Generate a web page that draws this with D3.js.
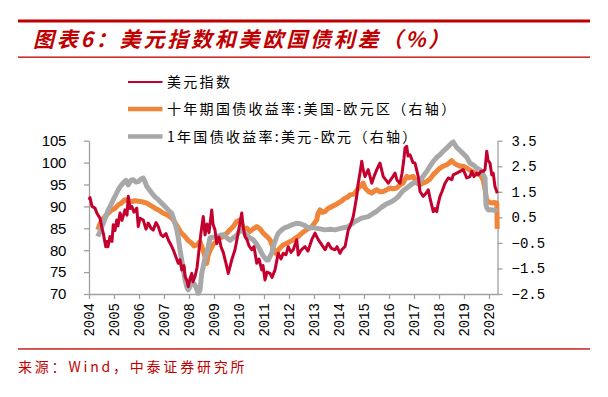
<!DOCTYPE html>
<html>
<head>
<meta charset="utf-8">
<script src="https://cdn.jsdelivr.net/npm/d3@7"></script>
<style>
  body { margin: 0; background: #fff; }
  svg { display: block; }
</style>
</head>
<body>
<script>
// years on the bottom axis, ticks on both value axes
var years = d3.range(2004, 2021);
var leftTicks = [70, 75, 80, 85, 90, 95, 100, 105];
var rightTicks = [-2.5, -1.5, -0.5, 0.5, 1.5, 2.5, 3.5];

var seriesNames = ['美元指数', '十年期国债收益率:美国-欧元区（右轴）', '1年国债收益率:美元-欧元（右轴）'];

// [decimal year, value]
var usdIndex = [
  [2004.00, 91.5], [2004.04, 92.0], [2004.12, 90.0], [2004.24, 89.6], [2004.32, 88.4],
  [2004.44, 87.3], [2004.52, 85.0], [2004.57, 83.9], [2004.67, 80.8], [2004.72, 82.0],
  [2004.76, 80.8], [2004.84, 83.1], [2004.92, 82.0], [2004.97, 85.8], [2005.04, 84.5],
  [2005.11, 86.9], [2005.16, 85.6], [2005.24, 88.5], [2005.32, 86.8], [2005.44, 89.2],
  [2005.52, 88.0], [2005.57, 92.3], [2005.64, 89.5], [2005.71, 90.0], [2005.80, 88.7],
  [2005.91, 89.6], [2005.97, 85.4], [2006.04, 87.3], [2006.17, 86.9], [2006.28, 84.8],
  [2006.37, 86.2], [2006.48, 85.0], [2006.57, 84.6], [2006.68, 86.3], [2006.77, 85.4],
  [2006.88, 83.5], [2006.97, 83.1], [2007.08, 83.8], [2007.17, 82.4], [2007.28, 81.2],
  [2007.37, 80.1], [2007.48, 78.4], [2007.57, 77.0], [2007.64, 77.8], [2007.71, 75.5],
  [2007.80, 76.5], [2007.84, 74.0], [2007.92, 73.0], [2007.97, 71.7], [2008.04, 73.5],
  [2008.11, 74.7], [2008.16, 72.8], [2008.24, 74.0], [2008.32, 76.0], [2008.40, 80.0],
  [2008.48, 84.0], [2008.57, 87.7], [2008.64, 83.5], [2008.72, 86.0], [2008.80, 84.0],
  [2008.91, 89.2], [2008.96, 86.0], [2009.04, 84.6], [2009.11, 81.5], [2009.20, 83.0],
  [2009.28, 80.8], [2009.37, 79.5], [2009.48, 77.0], [2009.57, 74.7], [2009.64, 76.2],
  [2009.72, 78.0], [2009.84, 80.1], [2009.92, 82.5], [2010.00, 85.0], [2010.11, 88.5],
  [2010.16, 85.5], [2010.24, 83.1], [2010.32, 82.4], [2010.40, 81.0], [2010.51, 80.1],
  [2010.60, 80.8], [2010.71, 77.0], [2010.80, 78.0], [2010.91, 75.5], [2010.96, 76.5],
  [2011.04, 73.2], [2011.12, 75.0], [2011.24, 74.7], [2011.32, 73.8], [2011.44, 75.5],
  [2011.57, 79.3], [2011.68, 78.0], [2011.77, 79.3], [2011.88, 79.0], [2011.97, 80.8],
  [2012.08, 79.5], [2012.17, 80.1], [2012.31, 82.4], [2012.37, 78.9], [2012.48, 80.0],
  [2012.64, 80.8], [2012.76, 79.8], [2012.91, 82.4], [2013.04, 83.9], [2013.17, 82.4],
  [2013.28, 81.5], [2013.44, 80.1], [2013.57, 81.6], [2013.68, 80.5], [2013.84, 80.1],
  [2013.92, 80.8], [2014.04, 79.3], [2014.12, 80.2], [2014.24, 80.8], [2014.37, 84.6],
  [2014.48, 86.0], [2014.57, 87.7], [2014.64, 90.0], [2014.71, 92.3], [2014.76, 95.0],
  [2014.84, 97.6], [2014.91, 100.3], [2014.96, 98.5], [2015.04, 96.8], [2015.17, 98.4],
  [2015.31, 95.3], [2015.40, 96.8], [2015.51, 98.4], [2015.64, 99.9], [2015.77, 96.8],
  [2015.88, 96.0], [2015.97, 95.3], [2016.12, 96.5], [2016.24, 97.6], [2016.32, 96.0],
  [2016.44, 95.3], [2016.52, 97.5], [2016.60, 101.0], [2016.64, 103.3], [2016.71, 103.7],
  [2016.76, 101.5], [2016.84, 101.8], [2016.96, 100.0], [2017.04, 99.9], [2017.17, 96.8],
  [2017.24, 93.4], [2017.37, 92.3], [2017.48, 93.0], [2017.57, 93.8], [2017.64, 91.9],
  [2017.77, 88.8], [2017.84, 89.5], [2017.91, 88.8], [2017.96, 90.4], [2018.04, 92.3],
  [2018.12, 93.4], [2018.24, 95.3], [2018.37, 96.5], [2018.51, 96.1], [2018.57, 97.2],
  [2018.71, 97.6], [2018.84, 98.0], [2018.97, 98.4], [2019.11, 96.5], [2019.24, 96.8],
  [2019.31, 98.0], [2019.40, 96.8], [2019.51, 97.6], [2019.57, 97.2], [2019.68, 98.0],
  [2019.77, 98.0], [2019.84, 98.4], [2019.91, 102.6], [2019.96, 100.5], [2020.04, 99.9],
  [2020.11, 97.2], [2020.17, 97.6], [2020.24, 94.5], [2020.31, 93.4], [2020.33, 93.0]
];

var tenYearSpread = [
  [2004.35, 0.01], [2004.44, 0.25], [2004.56, 0.45], [2004.64, 0.53], [2004.76, 0.65],
  [2004.91, 0.79], [2005.04, 0.85], [2005.17, 0.99], [2005.28, 1.05], [2005.44, 1.19],
  [2005.56, 1.15], [2005.71, 1.12], [2005.84, 1.15], [2006.04, 1.12], [2006.16, 1.10],
  [2006.31, 1.06], [2006.44, 0.98], [2006.64, 0.86], [2006.80, 0.78], [2006.97, 0.66],
  [2007.12, 0.60], [2007.31, 0.47], [2007.44, 0.30], [2007.57, 0.08], [2007.68, -0.10],
  [2007.84, -0.25], [2007.96, -0.40], [2008.11, -0.51], [2008.20, -0.62], [2008.32, -0.58],
  [2008.44, -0.45], [2008.57, -0.80], [2008.64, -1.05], [2008.71, -1.30], [2008.76, -1.00],
  [2008.84, -0.80], [2008.97, -0.55], [2009.11, -0.45], [2009.24, -0.32], [2009.36, -0.25],
  [2009.51, -0.12], [2009.64, 0.01], [2009.77, 0.14], [2009.91, 0.34], [2010.04, 0.40],
  [2010.12, 0.25], [2010.17, 0.05], [2010.31, 0.08], [2010.44, -0.05], [2010.57, 0.05],
  [2010.71, 0.14], [2010.84, 0.05], [2010.97, -0.12], [2011.12, -0.25], [2011.24, -0.38],
  [2011.37, -0.70], [2011.44, -0.85], [2011.51, -0.95], [2011.56, -0.80], [2011.64, -0.70],
  [2011.76, -0.58], [2011.91, -0.51], [2012.04, -0.45], [2012.17, -0.38], [2012.28, -0.30],
  [2012.37, -0.25], [2012.51, -0.12], [2012.68, 0.00], [2012.91, 0.14], [2013.04, 0.30],
  [2013.11, 0.40], [2013.16, 0.65], [2013.24, 0.79], [2013.32, 0.70], [2013.44, 0.73],
  [2013.56, 0.85], [2013.71, 0.92], [2013.84, 0.98], [2013.97, 1.06], [2014.12, 1.15],
  [2014.24, 1.25], [2014.36, 1.30], [2014.44, 1.38], [2014.56, 1.40], [2014.64, 1.45],
  [2014.77, 1.65], [2014.84, 1.71], [2014.97, 1.84], [2015.04, 1.65], [2015.11, 1.58],
  [2015.20, 1.50], [2015.31, 1.45], [2015.40, 1.52], [2015.51, 1.58], [2015.64, 1.50],
  [2015.77, 1.51], [2015.91, 1.58], [2016.04, 1.65], [2016.16, 1.62], [2016.31, 1.65],
  [2016.44, 1.77], [2016.56, 1.84], [2016.71, 2.10], [2016.80, 2.05], [2016.97, 2.10],
  [2017.11, 1.84], [2017.24, 1.77], [2017.36, 1.85], [2017.51, 1.90], [2017.64, 2.00],
  [2017.77, 2.17], [2017.91, 2.30], [2018.04, 2.43], [2018.16, 2.50], [2018.31, 2.56],
  [2018.40, 2.62], [2018.51, 2.72], [2018.60, 2.62], [2018.71, 2.56], [2018.80, 2.52],
  [2018.91, 2.49], [2018.97, 2.50], [2019.11, 2.43], [2019.24, 2.35], [2019.37, 2.28],
  [2019.52, 2.20], [2019.64, 2.17], [2019.72, 2.05], [2019.77, 1.95], [2019.84, 1.60],
  [2019.91, 1.15], [2020.00, 1.10], [2020.11, 1.06], [2020.20, 1.08], [2020.31, 1.06],
  [2020.33, 0.05]
];

var oneYearSpread = [
  [2004.35, -0.25], [2004.44, -0.05], [2004.57, 0.27], [2004.68, 0.55], [2004.77, 0.79],
  [2004.88, 1.00], [2004.97, 1.19], [2005.08, 1.40], [2005.17, 1.58], [2005.28, 1.75],
  [2005.37, 1.84], [2005.48, 1.95], [2005.57, 1.77], [2005.68, 1.95], [2005.77, 1.97],
  [2005.88, 1.88], [2005.97, 1.90], [2006.08, 2.00], [2006.17, 2.04], [2006.24, 1.90],
  [2006.31, 1.71], [2006.40, 1.60], [2006.51, 1.45], [2006.64, 1.30], [2006.77, 1.19],
  [2006.91, 1.05], [2007.04, 0.92], [2007.16, 0.80], [2007.31, 0.66], [2007.40, 0.40],
  [2007.51, 0.01], [2007.58, -0.35], [2007.64, -0.77], [2007.74, -1.35], [2007.84, -1.95],
  [2007.92, -2.25], [2007.97, -2.34], [2008.04, -2.21], [2008.12, -2.00], [2008.17, -2.08],
  [2008.24, -2.15], [2008.30, -2.30], [2008.37, -2.47], [2008.44, -2.34], [2008.51, -1.69],
  [2008.57, -1.43], [2008.64, -1.10], [2008.71, -0.90], [2008.77, -0.64], [2008.84, -0.30],
  [2008.96, -0.28], [2009.11, -0.28], [2009.24, -0.20], [2009.37, -0.18], [2009.51, -0.30],
  [2009.64, -0.40], [2009.77, -0.30], [2009.91, -0.20], [2010.04, 0.00], [2010.11, 0.01],
  [2010.20, -0.10], [2010.31, -0.20], [2010.44, -0.30], [2010.57, -0.38], [2010.71, -0.55],
  [2010.84, -0.77], [2010.96, -1.00], [2011.11, -1.17], [2011.17, -1.17], [2011.31, -0.90],
  [2011.37, -0.64], [2011.51, -0.25], [2011.57, -0.12], [2011.71, 0.01], [2011.84, 0.10],
  [2011.97, 0.14], [2012.12, 0.21], [2012.31, 0.27], [2012.44, 0.25], [2012.57, 0.21],
  [2012.68, 0.15], [2012.77, 0.08], [2012.88, 0.10], [2013.04, 0.08], [2013.24, 0.05],
  [2013.44, 0.01], [2013.64, 0.03], [2013.84, 0.01], [2013.96, 0.04], [2014.11, 0.08],
  [2014.24, 0.10], [2014.37, 0.14], [2014.48, 0.22], [2014.64, 0.34], [2014.76, 0.40],
  [2014.91, 0.47], [2015.04, 0.50], [2015.17, 0.53], [2015.28, 0.60], [2015.37, 0.66],
  [2015.48, 0.72], [2015.57, 0.79], [2015.68, 0.88], [2015.84, 0.99], [2015.96, 1.05],
  [2016.11, 1.12], [2016.24, 1.20], [2016.37, 1.31], [2016.48, 1.45], [2016.57, 1.55],
  [2016.71, 1.65], [2016.84, 1.75], [2016.97, 1.84], [2017.12, 1.88], [2017.24, 1.90],
  [2017.36, 2.10], [2017.51, 2.30], [2017.64, 2.50], [2017.77, 2.69], [2017.91, 2.85],
  [2018.04, 2.95], [2018.16, 3.08], [2018.31, 3.21], [2018.40, 3.30], [2018.51, 3.41],
  [2018.57, 3.45], [2018.64, 3.34], [2018.72, 3.22], [2018.84, 3.12], [2018.96, 3.00],
  [2019.11, 2.85], [2019.24, 2.62], [2019.37, 2.55], [2019.51, 2.43], [2019.64, 2.36],
  [2019.71, 2.30], [2019.77, 2.17], [2019.84, 2.04], [2019.88, 0.99], [2019.92, 0.86],
  [2019.97, 0.79], [2020.08, 0.80], [2020.16, 0.78], [2020.24, 0.79], [2020.33, 0.73]
];

(function () {
    var width = 608,
        height = 397,
        red = '#C4002F',
        orange = '#F0853A',
        grey = '#A8A8A8',
        axisGrey = '#A0A0A0',
        titleRed = '#C00000',
        cjk = '"Noto Sans CJK SC", sans-serif',
        mono = '"Liberation Mono", "DejaVu Sans Mono", monospace';

    var svg = d3.select('body').append('svg')
        .attr('width', width)
        .attr('height', height);

    // header and footer rules
    svg.append('rect').attr('x', 18).attr('y', 19.5).attr('width', 572).attr('height', 3).attr('fill', titleRed);
    svg.append('rect').attr('x', 18).attr('y', 56.5).attr('width', 572).attr('height', 1.3).attr('fill', titleRed);
    svg.append('rect').attr('x', 18).attr('y', 348.3).attr('width', 572).attr('height', 1.3).attr('fill', titleRed);

    svg.append('text')
        .attr('x', 33).attr('y', 47)
        .style('font-family', cjk).style('font-size', '21px')
        .style('font-weight', 'bold').style('font-style', 'italic')
        .style('letter-spacing', '2.8px')
        .attr('fill', titleRed)
        .text('图表6：美元指数和美欧国债利差（%）');

    svg.append('text')
        .attr('x', 18).attr('y', 372)
        .style('font-family', cjk).style('font-size', '14px')
        .style('letter-spacing', '2.8px')
        .attr('fill', titleRed)
        .text('来源：Wind，中泰证券研究所');

    // scales
    var x = d3.scaleLinear().domain([2004, 2020.34]).range([89, 497.5]),
        yLeft = d3.scaleLinear().domain([70, 105]).range([294, 140.7]),
        yRight = d3.scaleLinear().domain([-2.5, 3.5]).range([294, 140.7]);

    // axes
    var gx = svg.append('g').attr('transform', 'translate(0,294)')
        .call(d3.axisBottom(x).tickValues(years).tickFormat(d3.format('d')).tickSize(5).tickSizeOuter(0));
    gx.selectAll('text')
        .attr('transform', 'rotate(-90)')
        .attr('x', -9).attr('y', 0).attr('dy', '0.35em')
        .style('text-anchor', 'end');

    var gl = svg.append('g').attr('transform', 'translate(89,0)')
        .call(d3.axisLeft(yLeft).tickValues(leftTicks).tickSize(5).tickSizeOuter(0).tickPadding(18));

    var gr = svg.append('g').attr('transform', 'translate(497.5,0)')
        .call(d3.axisRight(yRight).tickValues(rightTicks).tickSize(5).tickSizeOuter(0).tickPadding(9)
            .tickFormat(function (d) { return d < 0 ? '\u2212' + Math.abs(d).toFixed(1) : d.toFixed(1); }));

    [gx, gl, gr].forEach(function (g) {
        g.select('.domain').attr('stroke', axisGrey).attr('stroke-width', 1.3);
        g.selectAll('.tick line').attr('stroke', axisGrey).attr('stroke-width', 1.3);
        g.selectAll('text').attr('fill', '#000');
    });
    gx.selectAll('text').style('font-family', mono).style('font-size', '14px');
    gr.selectAll('text').style('font-family', mono).style('font-size', '14px');
    gl.selectAll('text').style('font-family', '"Liberation Sans", Arial, sans-serif').style('font-size', '15px')
        .style('letter-spacing', '-0.3px');

    // lines
    var lineL = d3.line().x(function (d) { return x(d[0]); }).y(function (d) { return yLeft(d[1]); }),
        lineR = d3.line().x(function (d) { return x(d[0]); }).y(function (d) { return yRight(d[1]); });

    svg.append('path').datum(tenYearSpread)
        .attr('d', lineR).attr('fill', 'none').attr('stroke', orange)
        .attr('stroke-width', 5).attr('stroke-linejoin', 'round');
    svg.append('path').datum(oneYearSpread)
        .attr('d', lineR).attr('fill', 'none').attr('stroke', grey)
        .attr('stroke-width', 5).attr('stroke-linejoin', 'round');
    svg.append('path').datum(usdIndex)
        .attr('d', lineL).attr('fill', 'none').attr('stroke', red)
        .attr('stroke-width', 3).attr('stroke-linejoin', 'round');

    // legend
    var legend = [
        { name: seriesNames[0], color: red, w: 2.2, y: 82 },
        { name: seriesNames[1], color: orange, w: 4.5, y: 109 },
        { name: seriesNames[2], color: grey, w: 4.5, y: 136.5 }
    ];
    var lg = svg.selectAll('g.legend').data(legend).enter().append('g').attr('class', 'legend');
    lg.append('line')
        .attr('x1', 128).attr('x2', 162.5)
        .attr('y1', function (d) { return d.y; }).attr('y2', function (d) { return d.y; })
        .attr('stroke', function (d) { return d.color; })
        .attr('stroke-width', function (d) { return d.w; });
    lg.append('text')
        .attr('x', 167).attr('y', function (d) { return d.y; }).attr('dy', '0.36em')
        .style('font-family', cjk).style('font-size', '14px').style('letter-spacing', '2.3px')
        .attr('fill', '#000')
        .text(function (d) { return d.name; });
}());
</script>
</body>
</html>
